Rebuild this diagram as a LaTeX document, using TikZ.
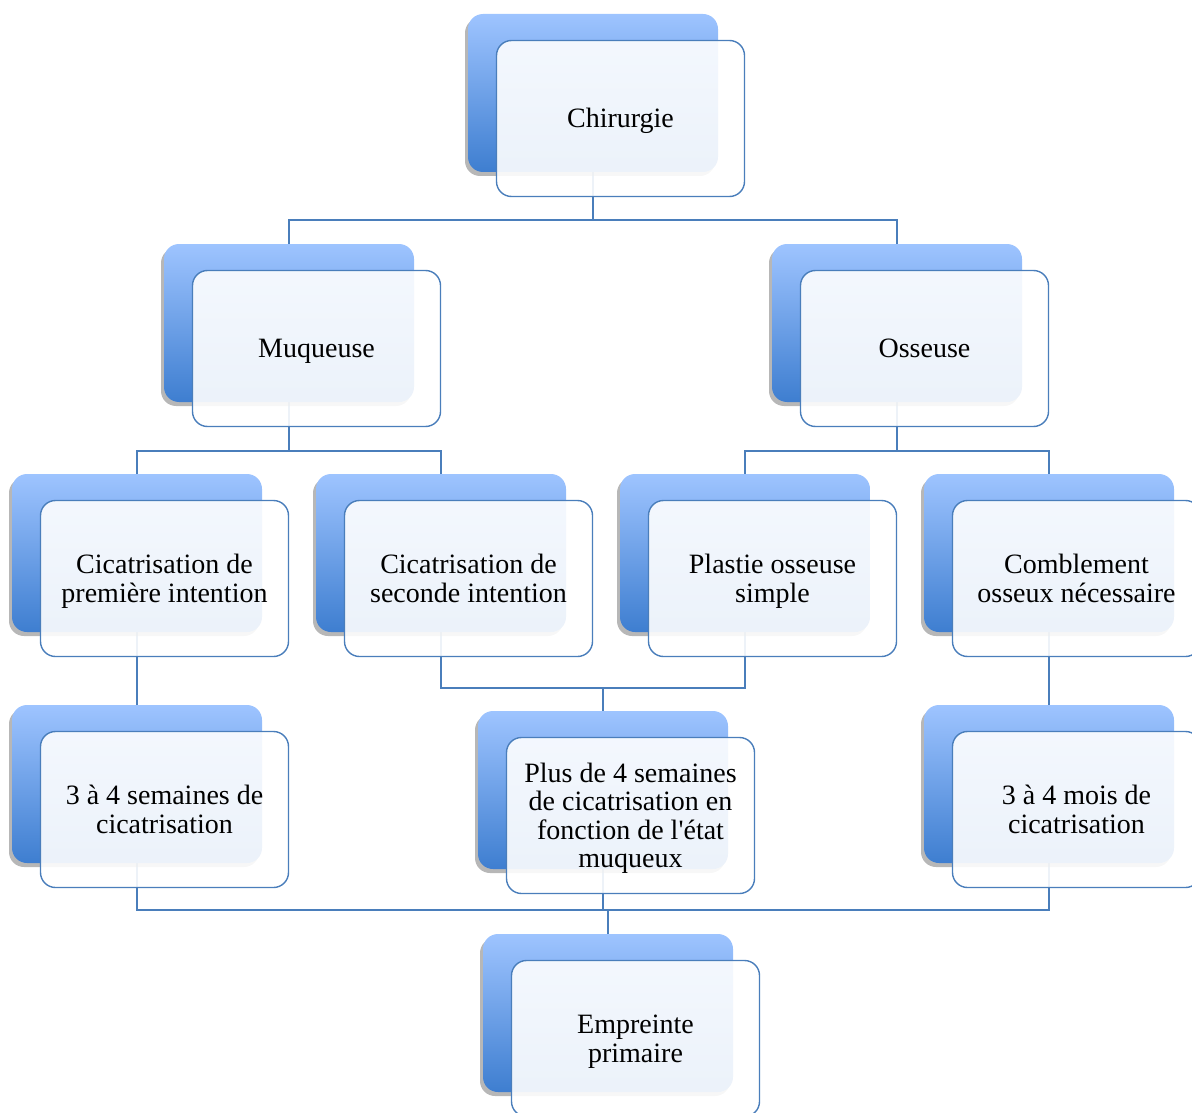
\documentclass[tikz,border=0pt]{standalone}
\usepackage{fontspec}
\setmainfont{Liberation Serif}
\usepackage{tikz}
\usetikzlibrary{shadows,backgrounds}

\definecolor{linkblue}{RGB}{74,126,187}
\definecolor{topblue}{RGB}{158,196,255}
\definecolor{botblue}{RGB}{62,126,208}

\begin{document}
\begin{tikzpicture}[x=1pt,y=-1pt,
    bnode/.style={rounded corners=15pt, minimum width=250pt, minimum height=158pt, top color=topblue, bottom color=botblue, draw=none,
      drop shadow={shadow xshift=-3pt, shadow yshift=-4pt, fill=black!70, opacity=0.4}},
    tnode/.style={rounded corners=15pt, minimum width=248pt, minimum height=156pt, draw=linkblue, line width=1.4pt, fill=white, fill opacity=0.9, text opacity=1,
      align=center, font=\fontsize{28}{28.5}\selectfont, execute at begin node={\rule{0pt}{26pt}}, execute at end node=\strut},
    mline/.style={text depth=-1pt},
    link/.style={draw=linkblue, line width=1.4pt}]
    \useasboundingbox (0,0) rectangle (1192,1113);

    \node[bnode] (chir) at (593,93) {};
    \node[tnode] (chirT) at (620.5,118.5) {Chirurgie};
    \node[bnode] (muq) at (289,323) {};
    \node[tnode] (muqT) at (316.5,348.5) {Muqueuse};
    \node[bnode] (oss) at (897,323) {};
    \node[tnode] (ossT) at (924.5,348.5) {Osseuse};

    \node[bnode] (prem) at (137,553) {};
    \node[tnode,mline] (premT) at (164.5,578.5) {Cicatrisation de\\première intention};
    \node[bnode] (sec) at (441,553) {};
    \node[tnode,mline] (secT) at (468.5,578.5) {Cicatrisation de\\seconde intention};
    \node[bnode] (plas) at (745,553) {};
    \node[tnode,mline] (plasT) at (772.5,578.5) {Plastie osseuse\\simple};
    \node[bnode] (comb) at (1049,553) {};
    \node[tnode,mline] (combT) at (1076.5,578.5) {Comblement\\osseux nécessaire};

    \node[bnode] (sem) at (137,784) {};
    \node[tnode,mline] (semT) at (164.5,809.5) {3 à 4 semaines de\\cicatrisation};
    \node[bnode] (plus) at (603,790) {};
    \node[tnode,mline] (plusT) at (630.5,815.5) {Plus de 4 semaines\\de cicatrisation en\\fonction de l\textquotesingle état\\muqueux};
    \node[bnode] (mois) at (1049,784) {};
    \node[tnode,mline] (moisT) at (1076.5,809.5) {3 à 4 mois de\\cicatrisation};

    \node[bnode] (emp) at (608,1013) {};
    \node[tnode,mline] (empT) at (635.5,1038.5) {Empreinte\\primaire};

    \coordinate (j1) at (593,220);
    \coordinate (j2) at (289,451);
    \coordinate (j3) at (897,451);
    \coordinate (j4) at (603,688);
    \coordinate (j5) at (608,910);

   \begin{scope}[on background layer]
    \draw[link] (chir.south) -- (j1) -| (muq.north);
    \draw[link] (j1) -| (oss.north);
    \draw[link] (muq.south) -- (j2) -| (prem.north);
    \draw[link] (j2) -| (sec.north);
    \draw[link] (oss.south) -- (j3) -| (plas.north);
    \draw[link] (j3) -| (comb.north);
    \draw[link] (prem.south) -- (sem.north);
    \draw[link] (sec.south) |- (j4);
    \draw[link] (plas.south) |- (j4);
    \draw[link] (j4) -- (plus.north);
    \draw[link] (comb.south) -- (mois.north);
    \draw[link] (sem.south) |- (j5) -| (mois.south);
    \draw[link] (plus.south) |- (j5);
    \draw[link] (j5) -- (emp.north);
   \end{scope}
\end{tikzpicture}
\end{document}
